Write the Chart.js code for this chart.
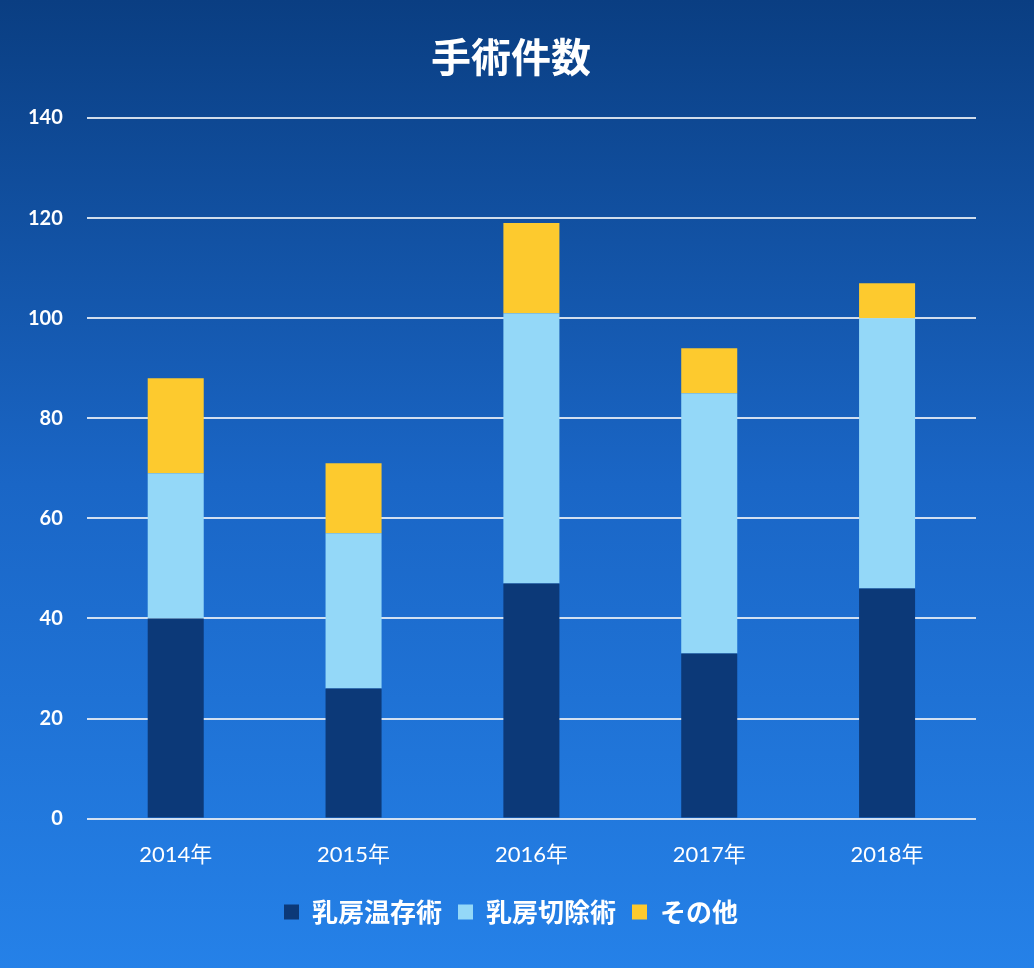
<!DOCTYPE html>
<html>
<head>
<meta charset="utf-8">
<script src="https://cdn.jsdelivr.net/npm/chart.js@4"></script>
<style>
  html, body { margin: 0; padding: 0; }
  body {
    width: 1034px; height: 968px;
    background: linear-gradient(to bottom, #0a3e82 0%, #1a66c6 50%, #2581e8 100%);
  }
  #wrap { position: relative; width: 1034px; height: 968px; }
</style>
</head>
<body>
<div id="wrap"><canvas id="chart"></canvas></div>
<script>
// Data
const years = ["2014年", "2015年", "2016年", "2017年", "2018年"];
const conserving = [40, 26, 47, 33, 46];   // 乳房温存術
const mastectomy = [29, 31, 54, 52, 54];   // 乳房切除術
const others = [19, 14, 18, 9, 7];         // その他

const cjk = "'Noto Sans CJK JP', sans-serif";
const num = "Lato, 'Noto Sans CJK JP', sans-serif";

new Chart(document.getElementById("chart"), {
    type: "bar",
    data: {
        labels: years,
        datasets: [
            { label: "乳房温存術", data: conserving, backgroundColor: "#0c3978" },
            { label: "乳房切除術", data: mastectomy, backgroundColor: "#94d8f8" },
            { label: "その他", data: others, backgroundColor: "#fdca2e" },
        ],
    },
    options: {
        responsive: true,
        maintainAspectRatio: false,
        animation: false,
        layout: { padding: { left: 4, right: 16, top: 20, bottom: 33 } },
        datasets: { bar: { categoryPercentage: 1, barPercentage: 0.315 } },
        plugins: {
            title: {
                display: true,
                text: "手術件数",
                color: "#ffffff",
                font: { family: cjk, size: 40, weight: "bold" },
                padding: { top: 13, bottom: 37 },
            },
            legend: {
                position: "bottom",
                labels: {
                    color: "#ffffff",
                    font: { family: cjk, size: 26, weight: "bold" },
                    boxWidth: 15,
                    boxHeight: 15,
                    padding: 16,
                },
            },
            tooltip: { enabled: false },
        },
        scales: {
            x: {
                stacked: true,
                grid: { display: false },
                border: { display: false },
                ticks: { color: "#ffffff", font: { family: num, size: 22 }, padding: 15 },
            },
            y: {
                stacked: true,
                min: 0,
                max: 140,
                ticks: { stepSize: 20, color: "#ffffff", font: { family: num, size: 20, weight: "bold" }, padding: 24 },
                grid: { color: "rgba(230,236,245,0.9)", lineWidth: 2, drawTicks: false },
                border: { display: false },
            },
            // empty right-hand spacer so the plot ends where the reference does
            spacer: {
                type: "linear",
                position: "right",
                grid: { display: false },
                border: { display: false },
                ticks: { display: false },
                afterFit: (axis) => { axis.width = 42; },
            },
        },
    },
});
</script>
</body>
</html>
